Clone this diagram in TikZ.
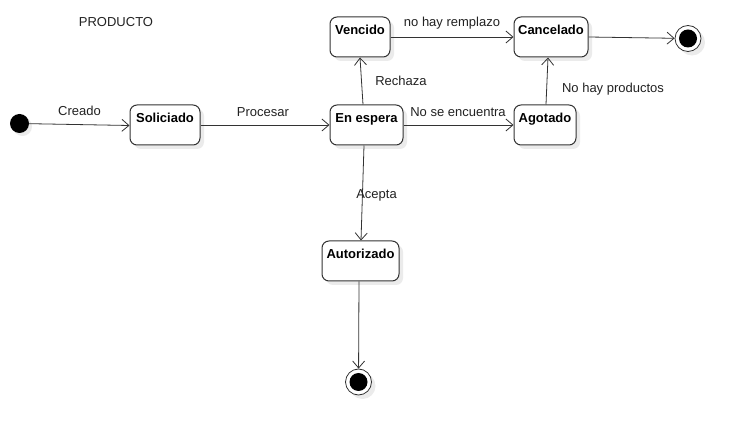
\documentclass[tikz,border=0pt]{standalone}
\usepackage{fontspec}
\setmainfont{Liberation Sans}
\usetikzlibrary{arrows.meta,shadows}
\definecolor{ln}{HTML}{333333}
\definecolor{tx}{HTML}{222222}
\tikzset{
  statebox/.style={draw=ln, line width=1pt, rounded corners=7pt, fill=white,
    minimum height=40pt, inner sep=0pt,
    drop shadow={shadow xshift=4pt, shadow yshift=-4pt, fill=black!8, opacity=1}},
  stlabel/.style={font=\fontsize{13}{15}\selectfont\bfseries, text=black, anchor=north, inner sep=0pt, yshift=-8.5pt},
  trans/.style={draw=ln, line width=0.8pt, -{Straight Barb[length=7pt,width=12pt,line width=0.8pt]}},
  tlabel/.style={font=\fontsize{13}{15}\selectfont, text=tx, inner sep=0pt},
  initst/.style={circle, fill=black, minimum size=19pt, inner sep=0pt,
    drop shadow={shadow xshift=3pt, shadow yshift=-3pt, fill=black!8, opacity=1}},
  finalst/.style={circle, draw=ln, line width=0.8pt, fill=white, minimum size=26pt, inner sep=0pt,
    drop shadow={shadow xshift=4pt, shadow yshift=-4pt, fill=black!8, opacity=1},
    path picture={\fill[black] (path picture bounding box.center) circle (9pt);}}
}
\begin{document}
\begin{tikzpicture}[x=1pt,y=-1pt]
\useasboundingbox (0,0) rectangle (739,435);
\fill[white] (0,0) rectangle (739,435);

\node[tlabel] (title) at (116,22) {PRODUCTO};

\node[initst] (ini) at (19.5,123.5) {};
\node[statebox, minimum width=70pt, label={[stlabel]north:Soliciado}] (sol) at (165,125) {};
\node[statebox, minimum width=73pt, label={[stlabel]north:En espera}] (esp) at (366.5,125) {};
\node[statebox, minimum width=60pt, label={[stlabel]north:Vencido}] (ven) at (360,37) {};
\node[statebox, minimum width=74pt, label={[stlabel]north:Cancelado}] (can) at (551,37) {};
\node[statebox, minimum width=62pt, label={[stlabel]north:Agotado}] (ago) at (545,125) {};
\node[statebox, minimum width=77pt, label={[stlabel]north:Autorizado}] (aut) at (360.5,261) {};
\node[finalst] (fin1) at (688,38.5) {};
\node[finalst] (fin2) at (358.5,382) {};

\draw[trans] (ini) -- (sol.west |- 0,125.5);
\node[tlabel] (lcre) at (79.5,111) {Creado};
\draw[trans] (sol) -- (esp);
\node[tlabel] (lpro) at (263,112) {Procesar};
\draw[trans] (esp.north -| 363,0) -- (ven.south -| 360,0);
\node[tlabel] (lrec) at (401,81) {Rechaza};
\draw[trans] (esp) -- (ago);
\node[tlabel] (lnse) at (458,112) {No se encuentra};
\draw[trans] (ven) -- (can);
\node[tlabel] (lnhr) at (452,23) {no hay remplazo};
\draw[trans] (ago.north -| 546,0) -- (can.south -| 548,0);
\node[tlabel] (lnhp) at (613,89) {No hay productos};
\draw[trans] (can.east |- 0,37) -- (fin1);
\draw[trans] (esp.south -| 364,0) -- (aut.north -| 361,0);
\node[tlabel] (lace) at (376.5,195) {Acepta};
\draw[trans] (aut.south -| 359,0) -- (fin2);
\end{tikzpicture}
\end{document}
